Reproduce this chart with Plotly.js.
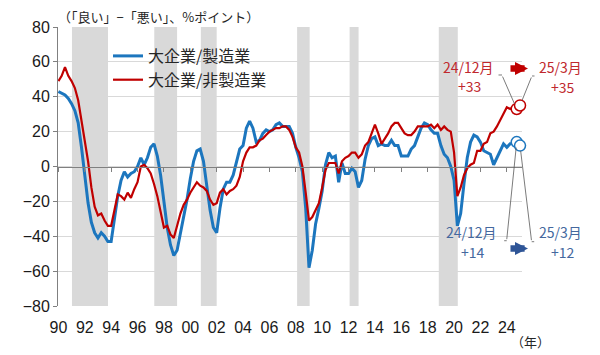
<!DOCTYPE html>
<html>
<head>
<meta charset="utf-8">
<script src="https://cdn.plot.ly/plotly-3.0.1.min.js"></script>
<style>
  html, body { margin: 0; padding: 0; background: #ffffff; }
  #chart { width: 600px; height: 355px; }
</style>
</head>
<body>
<div id="chart"></div>
<script>
// ---- data (quarterly Tankan business conditions DI, large enterprises) ----
const startYear = 1990;            // first survey: 1990 Q1
const seriesNames = ['大企業/製造業', '大企業/非製造業'];

const manufacturing = [
  43, 42, 41, 39,   36, 32, 25, 11,   -6, -21, -32, -38,   -41, -38, -40, -43,
  -43, -31, -17, -8,   -3, -6, -4, -3,   0, 5, 1, 5,   11, 13, 6, -5,
  -19, -35, -45, -51,   -48, -39, -28, -19,   -7, 3, 9, 10,   3, -10, -25, -35,
  -38, -24, -13, -9,   -9, -5, 2, 10,   12, 22, 26, 22,   14, 15, 19, 21,
  20, 21, 24, 25,   23, 23, 23, 19,   11, 5, -3, -24,   -58, -48, -33, -24,
  -14, 1, 8, 5,   6, -9, 2, -4,   -4, -1, -3, -12,   -8, 4, 12, 16,
  17, 12, 13, 12,   12, 15, 12, 12,   6, 6, 6, 10,   12, 17, 22, 25,
  24, 21, 19, 19,   12, 7, 5, 0,   -8, -34, -27, -10,   5, 14, 18, 17,
  14, 9, 8, 7,   1, 5, 9, 13,   11, 13, 13, 14,   12
];

const nonManufacturing = [
  49, 52, 57, 52,   49, 45, 38, 27,   15, 3, -12, -23,   -28, -27, -31, -34,
  -34, -24, -16, -17,   -19, -15, -18, -13,   -9, 0, 1, -1,   -4, -10, -17, -26,
  -35, -34, -39, -41,   -34, -27, -22, -19,   -15, -12, -9, -11,   -12, -14, -19, -22,
  -21, -15, -13, -16,   -14, -13, -11, -6,   3, 8, 11, 11,   12, 15, 16, 18,
  20, 21, 22, 22,   23, 23, 21, 17,   11, 8, 0, -15,   -31, -29, -25, -21,
  -12, -2, 2, 2,   2, -4, 3, 5,   6, 8, 8, 5,   7, 12, 14, 19,
  24, 19, 13, 16,   19, 23, 25, 25,   22, 19, 18, 18,   20, 23, 23, 23,
  23, 24, 22, 24,   21, 23, 21, 20,   8, -17, -12, -5,   -1, 1, 2, 9,
  9, 13, 14, 19,   20, 23, 27, 30,   34, 33, 34, 33,   35
];

// recession periods (shaded)
const recessionStart = [1991.03, 1997.27, 2000.80, 2008.10, 2012.08, 2018.84];
const recessionEnd   = [1993.76, 1999.00, 2002.00, 2009.05, 2012.76, 2020.28];

// axis ticks
const xTickVals  = [1990, 1992, 1994, 1996, 1998, 2000, 2002, 2004, 2006, 2008, 2010, 2012, 2014, 2016, 2018, 2020, 2022, 2024];
const xTickText  = ['90', '92', '94', '96', '98', '00', '02', '04', '06', '08', '10', '12', '14', '16', '18', '20', '22', '24'];
const yTickVals  = [-80, -60, -40, -20, 0, 20, 40, 60, 80];

// call-out labels
const latestLabels = { prev: '24/12月', last: '25/3月' };

// ---- build ----
const periods = manufacturing.map((_, i) => startYear + i / 4);
const n = periods.length;
const fmt = v => (v > 0 ? '+' : '') + v;

const BLUE = '#1C76BE', RED = '#C00000';
const JP = '"Noto Sans CJK JP", "Noto Sans", sans-serif';
const LAT = '"Liberation Sans", Arial, sans-serif';
const X_RANGE = [1989.97, 2025.15];

const traces = [
  { x: periods, y: manufacturing, name: seriesNames[0], type: 'scatter', mode: 'lines',
    line: { color: BLUE, width: 3 }, xaxis: 'x', yaxis: 'y' },
  { x: periods, y: nonManufacturing, name: seriesNames[1], type: 'scatter', mode: 'lines',
    line: { color: RED, width: 2.2 }, xaxis: 'x', yaxis: 'y' },
  { x: periods.slice(n - 2), y: manufacturing.slice(n - 2), type: 'scatter', mode: 'markers',
    showlegend: false, cliponaxis: false, xaxis: 'x2', yaxis: 'y',
    marker: { symbol: 'circle', size: 11, color: '#ffffff', line: { color: BLUE, width: 1.5 } } },
  { x: periods.slice(n - 2), y: nonManufacturing.slice(n - 2), type: 'scatter', mode: 'markers',
    showlegend: false, cliponaxis: false, xaxis: 'x2', yaxis: 'y',
    marker: { symbol: 'circle', size: 11, color: '#ffffff', line: { color: RED, width: 1.5 } } }
];

const shapes = recessionStart.map((s, k) => ({
  type: 'rect', xref: 'x', yref: 'paper', x0: s, x1: recessionEnd[k], y0: 0, y1: 1,
  fillcolor: '#D9D9D9', line: { width: 0 }, layer: 'below'
}));

const RT = '#C0282D', BT = '#44689E', LEAD = '#595959';
function txt(text, x, y, color, size, xanchor) {
  return { text: text, xref: 'paper', yref: 'paper', x: x, y: y, showarrow: false,
           xanchor: xanchor || 'center', yanchor: 'middle',
           font: { family: JP, size: size, color: color } };
}
function lead(xv, yv, ax, ay) {
  return { xref: 'x2', yref: 'y', x: xv, y: yv, ax: ax, ay: ay, text: '', showarrow: true,
           arrowhead: 0, arrowwidth: 0.8, arrowcolor: LEAD, standoff: 5.5 };
}
function tick(x, y, ax) {
  return { xref: 'paper', yref: 'paper', x: x, y: y, ax: ax, ay: 0, text: '', showarrow: true,
           arrowhead: 0, arrowwidth: 0.8, arrowcolor: LEAD };
}
function blockArrow(x, y, color) {
  return { xref: 'paper', yref: 'paper', x: x, y: y, ax: -19, ay: 0, text: '', showarrow: true,
           arrowhead: 2, arrowsize: 0.4, arrowwidth: 6.5, arrowcolor: color };
}

const annotations = [
  txt('（「良い」−「悪い」、%ポイント）', -0.004, 1.036, '#262626', 13, 'left'),
  txt('（年）', 1.019, -0.129, '#262626', 13),
  txt(latestLabels.prev, 0.885, 0.858, RT, 14),
  txt(fmt(nonManufacturing[n - 2]), 0.887, 0.789, RT, 14),
  txt(latestLabels.last, 1.084, 0.858, RT, 14),
  txt(fmt(nonManufacturing[n - 1]), 1.088, 0.785, RT, 14),
  txt(latestLabels.prev, 0.892, 0.264, BT, 14),
  txt(fmt(manufacturing[n - 2]), 0.894, 0.194, BT, 14),
  txt(latestLabels.last, 1.084, 0.264, BT, 14),
  txt(fmt(manufacturing[n - 1]), 1.088, 0.194, BT, 14),
  blockArrow(1.0129, 0.8513, RED),
  blockArrow(1.0129, 0.2061, '#2F5597'),
  lead(periods[n - 2], nonManufacturing[n - 2], -14.8, -33.9),
  lead(periods[n - 1], nonManufacturing[n - 1], 11.9, -29.5),
  lead(periods[n - 2], manufacturing[n - 2], -10.1, 98.6),
  lead(periods[n - 1], manufacturing[n - 1], 11.6, 96.1),
  tick(0.9569, 0.828, -5),
  tick(1.0216, 0.8244, 4),
  tick(0.967, 0.234, -4),
  tick(1.0209, 0.2305, 4)
];

const layout = {
  width: 600, height: 355,
  margin: { l: 58, r: 78, t: 27, b: 49 },
  paper_bgcolor: '#ffffff', plot_bgcolor: 'rgba(0,0,0,0)',
  showlegend: true,
  legend: { x: 0.1078, y: 0.957, xanchor: 'left', yanchor: 'top', bgcolor: 'rgba(0,0,0,0)',
            font: { family: JP, size: 16, color: '#262626' }, itemwidth: 30 },
  xaxis: { range: X_RANGE, tickmode: 'array', tickvals: xTickVals, ticktext: xTickText,
           ticks: 'outside', ticklen: 7, tickcolor: 'rgba(0,0,0,0)', showgrid: false, zeroline: false,
           showline: false, tickfont: { family: LAT, size: 16, color: '#1a1a1a' }, fixedrange: true },
  xaxis2: { range: X_RANGE, overlaying: 'x', anchor: 'free', position: 0.5, side: 'bottom',
            tickmode: 'array', tickvals: xTickVals, ticks: 'outside', ticklen: 4, tickcolor: '#808080',
            showticklabels: false, showgrid: false, zeroline: false, showline: true,
            linecolor: '#808080', linewidth: 1, fixedrange: true },
  yaxis: { range: [-80, 80], tickmode: 'array', tickvals: yTickVals, showgrid: true, gridcolor: '#D9D9D9',
           gridwidth: 1, zeroline: false, showline: true, linecolor: '#808080', linewidth: 1,
           ticks: 'outside', ticklen: 4, tickcolor: '#808080',
           tickfont: { family: LAT, size: 16, color: '#1a1a1a' }, fixedrange: true },
  shapes: shapes,
  annotations: annotations
};

Plotly.newPlot('chart', traces, layout, { staticPlot: true, displayModeBar: false });
</script>
</body>
</html>
